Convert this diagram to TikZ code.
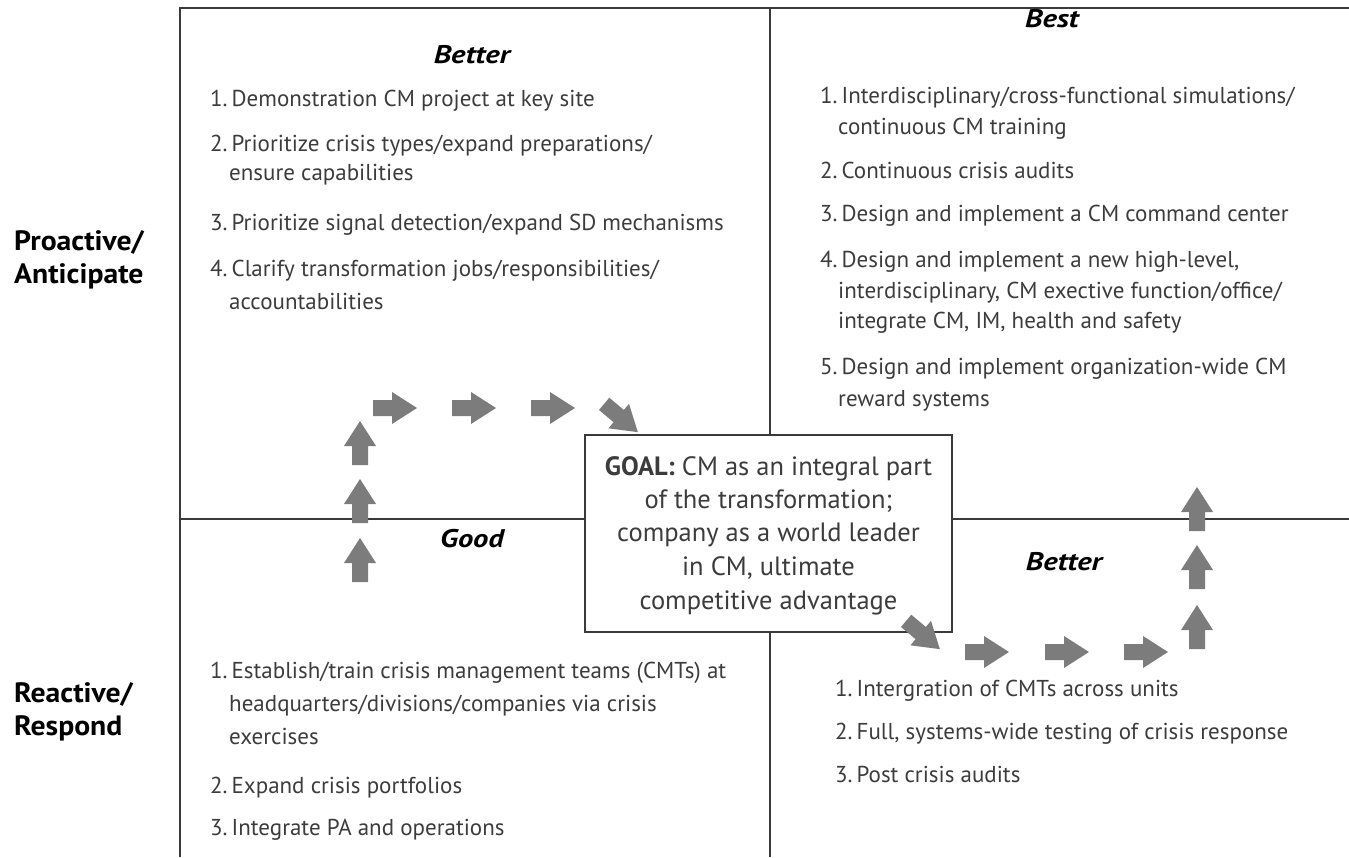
\documentclass[tikz,border=0pt]{standalone}
\usepackage{fontspec}
\setmainfont{PT Sans}
\newfontfamily\wideface[FakeStretch=1.2]{PT Sans}
\newfontfamily\labelface[FakeStretch=1.06]{PT Sans}
\newcommand\listno[1]{#1.\hspace{4pt}}
\definecolor{linegray}{HTML}{3A3A3A}
\definecolor{textgray}{HTML}{3C3C3C}
\definecolor{arrowgray}{HTML}{7C7C7C}
\begin{document}
\begin{tikzpicture}[x=1pt,y=-1pt,
  rule/.style={draw=linegray, line width=1.6pt},
  item/.style={anchor=base west, inner sep=0pt, text=textgray, font=\fontsize{23}{27}\selectfont},
  head/.style={anchor=base, inner sep=0pt, font=\wideface\fontsize{25.5}{30}\selectfont\bfseries\itshape},
  side/.style={anchor=base west, inner sep=0pt, font=\labelface\fontsize{28}{32}\selectfont\bfseries},
  goalline/.style={anchor=base, inner sep=0pt, text=textgray, font=\fontsize{26.5}{30}\selectfont},
  goalbox/.style={draw=linegray, line width=1.6pt, fill=white, minimum width=367, minimum height=197, inner sep=0pt},
  blockarrow/.pic={\fill[arrowgray] (-22,-8) -- (-3,-8) -- (-3,-16) -- (22,0) -- (-3,16) -- (-3,8) -- (-22,8) -- cycle;}
]
\useasboundingbox (0,0) rectangle (1349,857);

% frame of the two-by-two grid
\coordinate (topL) at (180,8);
\coordinate (topR) at (1349,8);
\coordinate (botL) at (180,857);
\coordinate (midT) at (770,8);
\coordinate (midB) at (770,857);
\coordinate (rowL) at (180,519);
\coordinate (rowR) at (1349,519);
\draw[rule] (topR) -- (topL) -- (botL);
\draw[rule] (midT) -- (midB);
\draw[rule] (rowL) -- (rowR);

% row labels
\node[side] (pro1) at (14,250) {Proactive/};
\node[side] (pro2) at (14,283) {Anticipate};
\node[side] (rea1) at (14,702) {Reactive/};
\node[side] (rea2) at (14,735) {Respond};

% upper left: Better
\node[head] (hTL) at (472,63) {Better};
\node[item] (tl1)  at (210,106) {\listno1Demonstration CM project at key site};
\node[item] (tl2)  at (210,151) {\listno2Prioritize crisis types/expand preparations/};
\node[item] (tl2b) at (229,180) {ensure capabilities};
\node[item] (tl3)  at (210,230) {\listno3Prioritize signal detection/expand SD mechanisms};
\node[item] (tl4)  at (210,276) {\listno4Clarify transformation jobs/responsibilities/};
\node[item] (tl4b) at (229,309) {accountabilities};

% upper right: Best
\node[head] (hTR) at (1052,27) {Best};
\node[item] (tr1)  at (820,103) {\listno1Interdisciplinary/cross-functional simulations/};
\node[item] (tr1b) at (838,134) {continuous CM training};
\node[item] (tr2)  at (820,178) {\listno2Continuous crisis audits};
\node[item] (tr3)  at (820,221) {\listno3Design and implement a CM command center};
\node[item] (tr4)  at (820,267) {\listno4Design and implement a new high-level,};
\node[item] (tr4b) at (838,298) {interdisciplinary, CM exective function/office/};
\node[item] (tr4c) at (838,328) {integrate CM, IM, health and safety};
\node[item] (tr5)  at (820,374) {\listno5Design and implement organization-wide CM};
\node[item] (tr5b) at (838,406) {reward systems};

% lower left: Good
\node[head] (hBL) at (472,547) {Good};
\node[item] (bl1)  at (210,678) {\listno1Establish/train crisis management teams (CMTs) at};
\node[item] (bl1b) at (229,711) {headquarters/divisions/companies via crisis};
\node[item] (bl1c) at (229,744) {exercises};
\node[item] (bl2)  at (210,793) {\listno2Expand crisis portfolios};
\node[item] (bl3)  at (210,835) {\listno3Integrate PA and operations};

% lower right: Better
\node[head] (hBR) at (1064,570) {Better};
\node[item] (br1) at (835,696) {\listno1Intergration of CMTs across units};
\node[item] (br2) at (835,739) {\listno2Full, systems-wide testing of crisis response};
\node[item] (br3) at (835,782) {\listno3Post crisis audits};

% path from Good up through Better towards the goal
\pic[rotate=90]  at (360,560) {blockarrow};
\pic[rotate=90]  at (360,501) {blockarrow};
\pic[rotate=90]  at (360,443) {blockarrow};
\pic             at (395,408) {blockarrow};
\pic             at (474,408) {blockarrow};
\pic             at (553,408) {blockarrow};
\pic[rotate=-40] at (621,418) {blockarrow};

% goal in the centre of the grid
\node[goalbox] (goal) at (768.5,533.5) {};
\node[goalline] (g1) at (768.5,475) {\textbf{GOAL:} CM as an integral part};
\node[goalline] (g2) at (768.5,508) {of the transformation;};
\node[goalline] (g3) at (768.5,541) {company as a world leader};
\node[goalline] (g4) at (768.5,575) {in CM, ultimate};
\node[goalline] (g5) at (768.5,609) {competitive advantage};

% path from the goal through Better up to Best
\pic[rotate=-40] at (923,635) {blockarrow};
\pic             at (987,652) {blockarrow};
\pic             at (1067,652) {blockarrow};
\pic             at (1146,652) {blockarrow};
\pic[rotate=90]  at (1197,627) {blockarrow};
\pic[rotate=90]  at (1197,567) {blockarrow};
\pic[rotate=90]  at (1197,509) {blockarrow};
\end{tikzpicture}
\end{document}
